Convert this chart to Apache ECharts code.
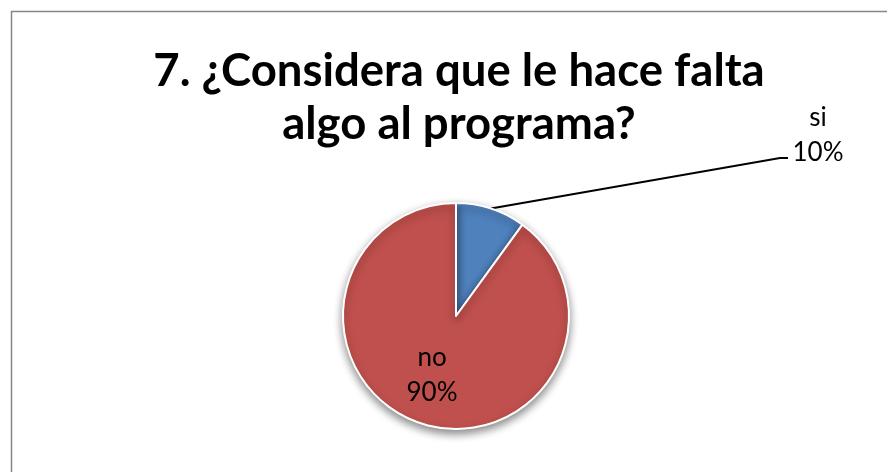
<!DOCTYPE html>
<html><head><meta charset="utf-8">
<script src="https://cdn.jsdelivr.net/npm/echarts@6/dist/echarts.min.js"></script>
<style>html,body{margin:0;padding:0;background:#fff}#c{width:887px;height:472px}</style>
</head><body><div id="c"></div>
<script>
const titleText = '7. ¿Considera que le hace falta\nalgo al programa?';
const categories = ['si', 'no'];
const values = [10, 90];
const colors = ['#4F81BD', '#C0504D'];

const chart = echarts.init(document.getElementById('c'), null, {renderer: 'canvas'});
const FONT = 'Lato, "Open Sans", sans-serif';
const SI_X = 818, SI_Y = 135;
chart.setOption({
  backgroundColor: '#ffffff',
  animation: false,
  graphic: [{
    type: 'rect', shape: {x: 11.5, y: 11.5, width: 900, height: 500},
    style: {fill: 'none', stroke: '#868686', lineWidth: 1.5}, silent: true, z: -1
  }],
  title: {
    text: titleText, left: 454, top: 40, textAlign: 'center',
    textStyle: {fontFamily: FONT, fontWeight: 'bold', fontSize: 45.5, lineHeight: 53, color: '#000'}
  },
  series: [{
    type: 'pie',
    center: [456, 316], radius: 113,
    startAngle: 90, clockwise: true,
    data: categories.map((c, i) => ({
      name: c, value: values[i],
      itemStyle: {color: colors[i]},
      label: i === 0 ? {position: 'outside'} : {position: 'inside'},
      labelLine: i === 0 ? {show: true} : {show: false}
    })),
    itemStyle: {borderColor: '#fff', borderWidth: 2, shadowBlur: 8, shadowOffsetY: 4, shadowColor: 'rgba(0,0,0,0.45)'},
    label: {
      formatter: '{b}\n{d}%', fontFamily: FONT, fontSize: 26, lineHeight: 35, color: '#000', align: 'center'
    },
    labelLine: {lineStyle: {color: '#000', width: 2}, length: 20, length2: 10},
    labelLayout: function (p) {
      if (p.dataIndex === 0) {
        const start = p.labelLinePoints ? p.labelLinePoints[0] : [491, 208];
        return {
          x: SI_X, y: SI_Y, align: 'center', verticalAlign: 'middle',
          labelLinePoints: [start, [SI_X - 38, SI_Y + 23], [SI_X - 30, SI_Y + 23]]
        };
      }
      return {x: 432, y: 375, align: 'center', verticalAlign: 'middle'};
    }
  }]
});
</script></body></html>
